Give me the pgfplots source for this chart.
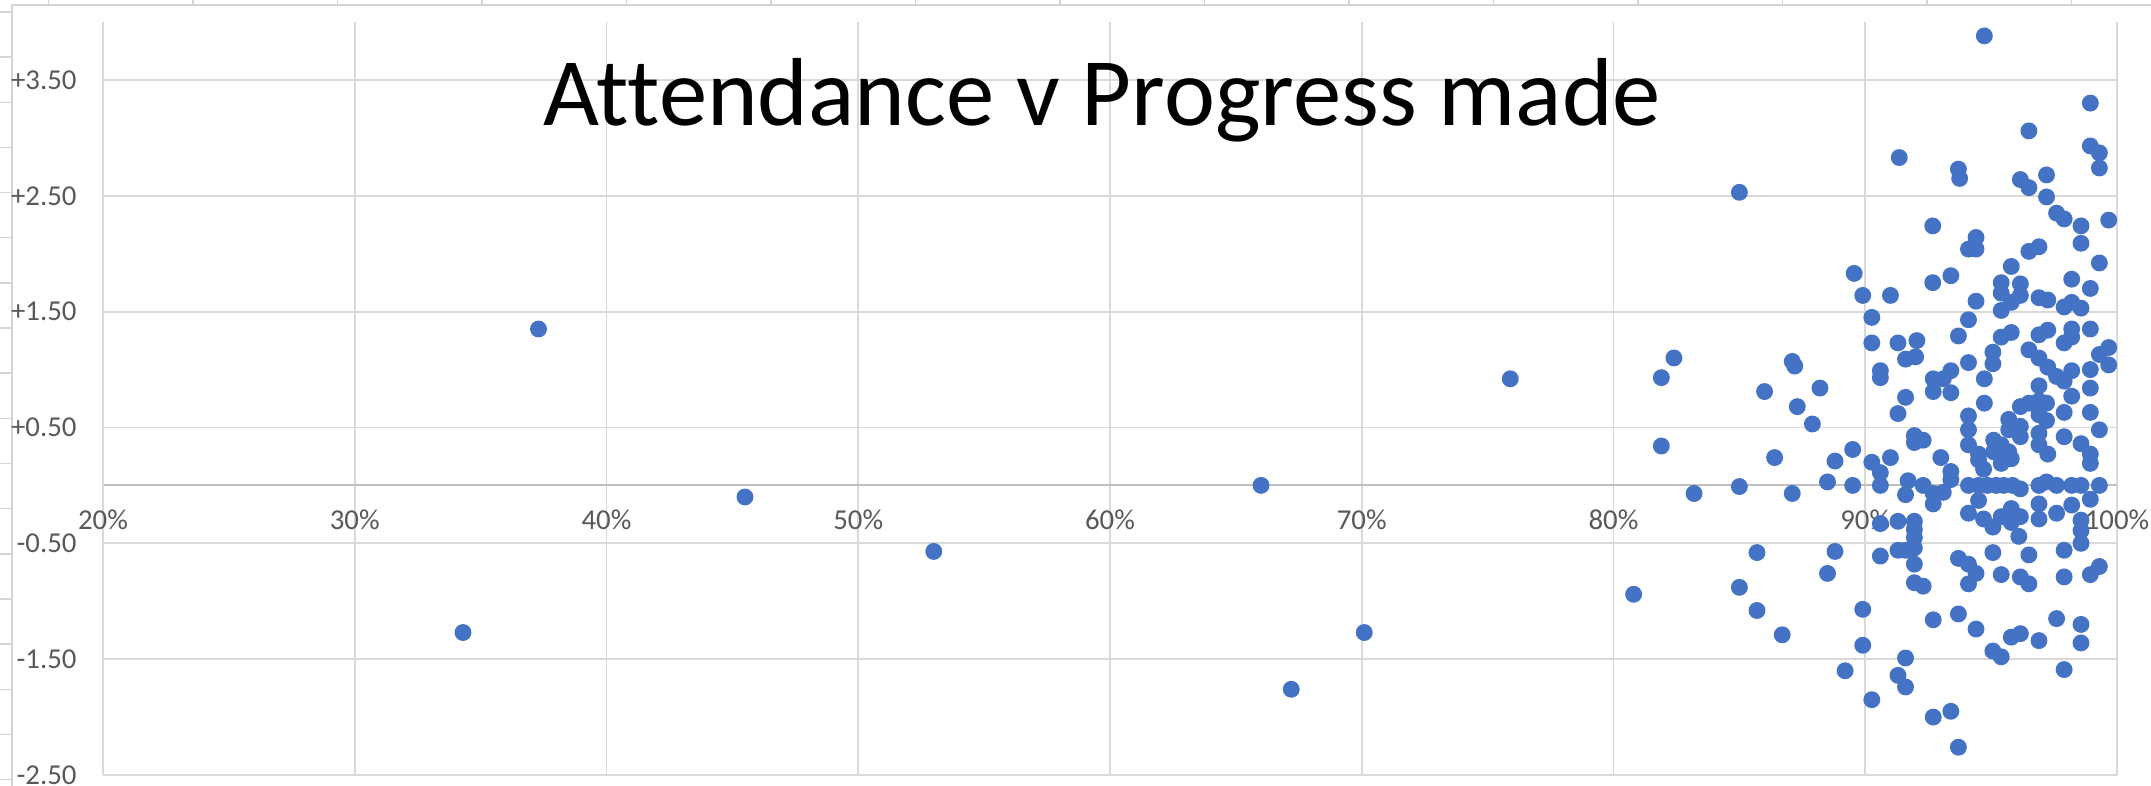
\documentclass[border=0pt]{standalone}
\usepackage{pgfplots}
\pgfplotsset{compat=1.18}
\usepackage{pgfplotstable}
\usepackage{fontspec}
\setmainfont{Carlito}
\definecolor{ptblue}{HTML}{4472C4}
\definecolor{gridc}{HTML}{D9D9D9}
\definecolor{axisc}{HTML}{BFBFBF}
\definecolor{labc}{HTML}{595959}
\definecolor{cellc}{HTML}{D4D4D4}

\pgfplotstableread{
x y
34.3 -1.27
37.3 1.35
45.5 -0.10
53.0 -0.57
66.0 0.00
67.2 -1.76
70.1 -1.27
75.9 0.92
80.8 -0.94
81.9 0.93
82.4 1.10
81.9 0.34
83.2 -0.07
85.0 2.53
85.0 -0.01
85.0 -0.88
85.7 -0.58
85.7 -1.08
86.0 0.81
86.4 0.24
86.7 -1.29
87.1 1.07
87.2 1.03
87.1 -0.07
87.3 0.68
87.9 0.53
91.35 2.83
93.7 2.73
93.75 2.65
92.68 2.24
89.56 1.83
92.68 1.75
93.4 1.81
89.9 1.64
91.0 1.64
90.26 1.45
90.26 1.23
91.3 1.23
92.05 1.25
93.7 1.29
91.6 1.09
92.0 1.11
90.6 0.99
90.6 0.93
88.2 0.84
92.7 0.92
93.1 0.92
93.4 0.99
92.7 0.81
93.4 0.80
91.6 0.76
91.3 0.62
91.95 0.43
91.95 0.37
92.3 0.39
89.5 0.31
88.8 0.21
90.26 0.20
91.0 0.24
90.6 0.11
90.6 0.00
93.0 0.24
93.4 0.12
93.4 0.05
88.5 0.03
89.5 0.00
91.7 0.04
91.6 -0.08
92.3 0.00
92.7 -0.07
93.1 -0.06
92.7 -0.16
90.6 -0.33
91.3 -0.31
91.95 -0.31
91.95 -0.38
91.95 -0.45
91.95 -0.54
91.3 -0.56
91.6 -0.56
88.8 -0.57
90.6 -0.61
93.7 -0.63
91.95 -0.68
88.5 -0.76
91.95 -0.84
92.3 -0.87
93.7 -1.11
92.7 -1.16
89.9 -1.07
89.9 -1.38
91.6 -1.49
89.2 -1.60
91.3 -1.64
91.6 -1.74
90.26 -1.85
92.7 -2.00
93.4 -1.95
93.7 -2.26
94.73 3.88
98.94 3.30
96.5 3.06
98.94 2.93
99.3 2.87
99.3 2.74
96.16 2.64
96.5 2.57
97.2 2.68
97.2 2.49
97.6 2.35
97.9 2.30
98.57 2.24
98.57 2.09
99.67 2.29
94.4 2.14
94.1 2.04
94.4 2.04
96.5 2.02
96.9 2.06
95.8 1.89
99.3 1.92
95.4 1.75
95.4 1.66
96.16 1.74
96.16 1.64
98.2 1.78
98.94 1.70
94.4 1.59
95.4 1.51
95.8 1.58
96.9 1.62
97.25 1.60
97.9 1.54
98.2 1.58
98.57 1.53
94.1 1.43
95.4 1.28
95.8 1.32
96.9 1.30
97.25 1.34
97.9 1.23
98.2 1.35
98.2 1.28
98.94 1.35
99.67 1.19
99.3 1.13
99.67 1.04
96.5 1.17
96.9 1.10
95.07 1.15
95.07 1.05
94.1 1.06
97.25 1.02
97.6 0.94
97.9 0.90
98.2 0.99
98.94 1.00
94.73 0.92
98.94 0.84
96.9 0.86
98.2 0.77
94.73 0.71
96.16 0.68
96.5 0.71
96.9 0.73
97.2 0.71
96.9 0.61
97.2 0.56
97.9 0.63
98.94 0.63
99.3 0.48
94.1 0.60
94.1 0.48
94.1 0.35
95.7 0.57
95.7 0.48
96.16 0.51
96.16 0.42
95.1 0.39
95.4 0.35
95.1 0.29
95.7 0.29
95.8 0.23
94.5 0.27
94.5 0.22
94.7 0.14
95.4 0.19
96.9 0.45
96.9 0.35
97.25 0.27
97.9 0.42
98.57 0.36
98.94 0.27
98.94 0.19
94.1 0.00
94.5 0.00
94.85 0.00
95.2 0.00
95.5 0.00
95.85 0.00
96.16 -0.03
96.9 0.00
97.2 0.03
97.6 0.00
98.2 0.00
98.57 0.00
99.3 0.00
98.94 -0.12
94.5 -0.13
94.1 -0.24
94.7 -0.29
95.07 -0.36
95.4 -0.27
95.8 -0.20
96.16 -0.27
95.8 -0.32
96.1 -0.44
96.9 -0.16
96.9 -0.29
97.6 -0.24
98.2 -0.17
98.57 -0.30
98.57 -0.39
98.57 -0.50
95.07 -0.58
96.5 -0.60
97.9 -0.56
94.1 -0.68
94.4 -0.76
94.1 -0.85
95.4 -0.77
96.16 -0.79
96.5 -0.85
97.9 -0.79
98.94 -0.77
99.3 -0.70
94.4 -1.24
95.8 -1.31
96.16 -1.28
96.9 -1.34
97.6 -1.15
98.57 -1.20
98.57 -1.36
95.07 -1.43
95.4 -1.48
97.9 -1.59
}\datatable

\begin{document}
\begin{tikzpicture}
\useasboundingbox (0,0) rectangle (215.1mm,-78.6mm);
\fill[white] (0,0) rectangle (215.1mm,-78.6mm);
% spreadsheet cell borders around the chart area
\foreach \k in {0,...,14} \draw[cellc, line width=0.4pt] ({4.83mm+\k*14.45mm},0) -- ++(0,-0.5mm);
\foreach \k in {0,...,17} \draw[cellc, line width=0.4pt] (0,{-1.2mm-\k*4.515mm}) -- ++(1.2mm,0);
\draw[cellc, line width=0.5pt] (1.2mm,-78.6mm) -- (1.2mm,-0.5mm) -- (215.1mm,-0.5mm);
\begin{axis}[
  at={(10.3mm,-77.5mm)}, anchor=south west,
  scale only axis, width=201.4mm, height=75.3mm,
  xmin=20, xmax=100, ymin=-2.5, ymax=4,
  xtick={20,30,...,100}, ytick={-2.5,-1.5,...,3.5},
  axis x line*=middle, axis y line*=left,
  x axis line style={axisc, line width=0.6pt},
  y axis line style={gridc, line width=0.5pt},
  grid=major, major grid style={gridc, line width=0.5pt},
  major tick length=0pt,
  hide obscured x ticks=false, hide obscured y ticks=false,
  tick label style={font=\fontsize{8.2}{9.8}\selectfont, text=labc},
  xticklabel={\pgfmathprintnumber[assume math mode=true]{\tick}\%},
  yticklabel={\pgfmathprintnumber[assume math mode=true,fixed,fixed zerofill,precision=2,showpos]{\tick}},
  yticklabel style={xshift=-1.4mm},
  xticklabel style={yshift=-1.2mm},
  clip=false,
]
\addplot[only marks, mark=*, mark size=2.2pt, mark options={draw=ptblue, fill=ptblue}] table[x=x, y=y] {\datatable};
\end{axis}
\node[anchor=base, font=\fontsize{27.5}{33}\selectfont\addfontfeatures{Ligatures=NoCommon}, text=black] at (110.2mm,-12.6mm) {Attendance v Progress made};
\end{tikzpicture}
\end{document}
